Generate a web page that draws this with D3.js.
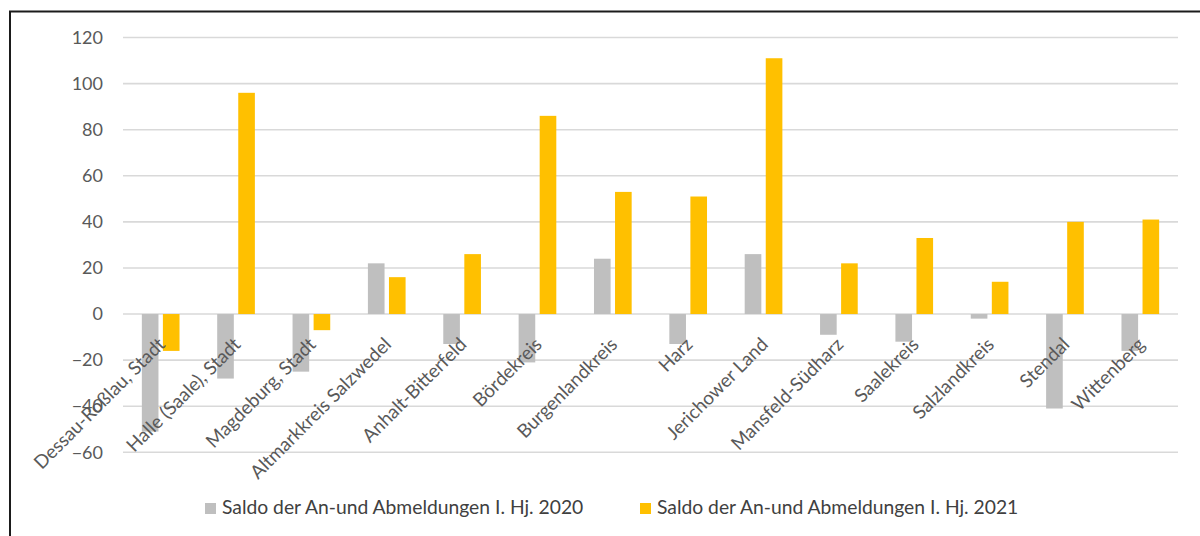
<!DOCTYPE html>
<html>
<head>
<meta charset="utf-8">
<script src="https://cdn.jsdelivr.net/npm/d3@7"></script>
<style>
  html, body { margin: 0; padding: 0; background: #fff; }
  svg { display: block; }
  text { font-family: Lato, "Open Sans", sans-serif; }
</style>
</head>
<body>
<svg id="chart" width="1200" height="536"></svg>
<script>
// Districts of Sachsen-Anhalt
const categories = [
  "Dessau-Roßlau, Stadt", "Halle (Saale), Stadt", "Magdeburg, Stadt",
  "Altmarkkreis Salzwedel", "Anhalt-Bitterfeld", "Bördekreis",
  "Burgenlandkreis", "Harz", "Jerichower Land", "Mansfeld-Südharz",
  "Saalekreis", "Salzlandkreis", "Stendal", "Wittenberg"
];
// Balance of registrations and deregistrations, first half-year
const saldo2020 = [-51, -28, -25, 22, -13, -21, 24, -13, 26, -9, -12, -2, -41, -16];
const saldo2021 = [-16, 96, -7, 16, 26, 86, 53, 51, 111, 22, 33, 14, 40, 41];
const seriesNames = [
  "Saldo der An-und Abmeldungen I. Hj. 2020",
  "Saldo der An-und Abmeldungen I. Hj. 2021"
];
const seriesColors = ["#BFBFBF", "#FFC000"];
const yTicks = [-60, -40, -20, 0, 20, 40, 60, 80, 100, 120];

const svg = d3.select("#chart");

// outer frame
svg.append("rect")
  .attr("x", 10).attr("y", 11.5)
  .attr("width", 1400).attr("height", 700)
  .attr("fill", "none")
  .attr("stroke", "#1b1b1b")
  .attr("stroke-width", 2);

const plot = { left: 123, right: 1178 };
const y = d3.scaleLinear().domain([-60, 120]).range([452.3, 37.5]);
const x0 = d3.scaleBand()
  .domain(categories)
  .range([plot.left, plot.right])
  .paddingInner(0.5)
  .paddingOuter(0.25);
const x1 = d3.scaleBand()
  .domain([0, 1])
  .range([0, x0.bandwidth()])
  .paddingInner(0.21);

// gridlines
svg.append("g")
  .selectAll("line")
  .data(yTicks)
  .join("line")
  .attr("x1", plot.left).attr("x2", plot.right)
  .attr("y1", d => y(d)).attr("y2", d => y(d))
  .attr("stroke", "#D9D9D9")
  .attr("stroke-width", 1.6);

// y axis labels
const yAxis = d3.axisLeft(y).tickValues(yTicks).tickSize(0).tickPadding(0);
const yg = svg.append("g")
  .attr("transform", "translate(103,0)")
  .call(yAxis);
yg.select(".domain").remove();
yg.selectAll("text")
  .attr("fill", "#595959")
  .style("font-size", "18px")
  .style("font-family", "Lato, 'Open Sans', sans-serif");

// bars
const series = [saldo2020, saldo2021];
const groups = svg.append("g")
  .selectAll("g")
  .data(categories)
  .join("g")
  .attr("transform", d => `translate(${x0(d)},0)`);

groups.selectAll("rect")
  .data((d, i) => series.map((s, k) => ({ k, v: s[i] })))
  .join("rect")
  .attr("x", d => x1(d.k))
  .attr("width", x1.bandwidth())
  .attr("y", d => y(Math.max(0, d.v)))
  .attr("height", d => Math.abs(y(d.v) - y(0)))
  .attr("fill", d => seriesColors[d.k]);

// category labels, rotated
svg.append("g")
  .selectAll("text")
  .data(categories)
  .join("text")
  .attr("transform", d => `translate(${x0(d) + x0.bandwidth() / 2 + 1},${341}) rotate(-45)`)
  .attr("text-anchor", "end")
  .attr("dy", "0.35em")
  .attr("fill", "#595959")
  .style("font-size", "18.8px")
  .text(d => d);

// legend
const legendX = [205, 640];
const legend = svg.append("g")
  .selectAll("g")
  .data(seriesNames)
  .join("g")
  .attr("transform", (d, i) => `translate(${legendX[i]},503)`);
legend.append("rect")
  .attr("width", 11).attr("height", 11)
  .attr("fill", (d, i) => seriesColors[i]);
legend.append("text")
  .attr("x", 17).attr("y", 11)
  .attr("fill", "#404040")
  .style("font-size", "19.3px")
  .text(d => d);
</script>
</body>
</html>
